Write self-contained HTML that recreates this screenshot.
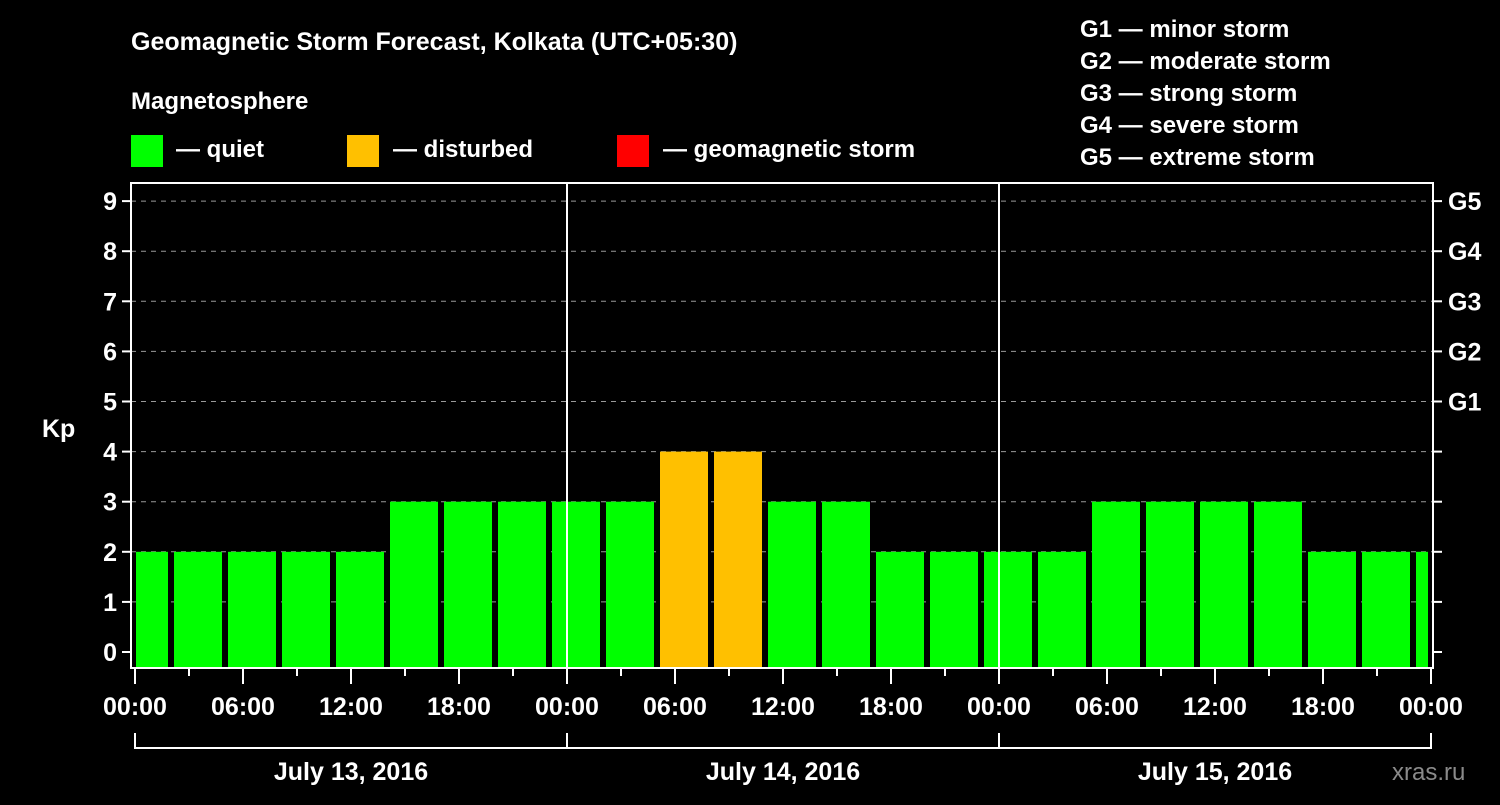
<!DOCTYPE html>
<html><head><meta charset="utf-8"><style>
body{margin:0;background:#000;width:1500px;height:800px;overflow:hidden}
svg text{font-family:"Liberation Sans",Arial,sans-serif;font-weight:bold;fill:#fff}
</style></head><body>
<svg id="c" width="1500" height="800">
<rect width="1500" height="800" fill="#000"/>
<text x="131" y="50" font-size="25">Geomagnetic Storm Forecast, Kolkata (UTC+05:30)</text>
<text x="131" y="109" font-size="24">Magnetosphere</text>
<g><rect x="131" y="135" width="32" height="32" fill="#00ff00"/><text x="176" y="157" font-size="24">— quiet</text></g>
<g><rect x="347" y="135" width="32" height="32" fill="#ffc000"/><text x="393" y="157" font-size="24">— disturbed</text></g>
<g><rect x="617" y="135" width="32" height="32" fill="#ff0000"/><text x="663" y="157" font-size="24">— geomagnetic storm</text></g>
<g font-size="24">
<text x="1080" y="37">G1 — minor storm</text><text x="1080" y="69">G2 — moderate storm</text><text x="1080" y="101">G3 — strong storm</text><text x="1080" y="133">G4 — severe storm</text><text x="1080" y="165">G5 — extreme storm</text></g>
<text x="42" y="437" font-size="25">Kp</text>
<text x="1392" y="780" font-size="24" fill="#888" style="fill:#8a8a8a;font-weight:normal">xras.ru</text>
<g id="grid"></g><g id="bars"></g><g id="axes"></g>
</svg>
<script>
const kpValues=[2,2,2,2,2,3,3,3,3,3,4,4,3,3,2,2,2,2,3,3,3,3,2,2,2];
const yTicks=[0,1,2,3,4,5,6,7,8,9];
const gLabels=["G1","G2","G3","G4","G5"];
const xTickLabels=["00:00","06:00","12:00","18:00","00:00","06:00","12:00","18:00","00:00","06:00","12:00","18:00","00:00"];
const dayLabels=["July 13, 2016","July 14, 2016","July 15, 2016"];
const NS="http://www.w3.org/2000/svg";
const L=131,R=1433,T=183,B=668,X0=135,PH=18;
const y=v=>652-v*50.1;
const xh=h=>X0+h*PH;
function mk(tag,attrs,parent){const e=document.createElementNS(NS,tag);for(const k in attrs)e.setAttribute(k,attrs[k]);parent.appendChild(e);return e;}
const grid=document.getElementById('grid'),bars=document.getElementById('bars'),axes=document.getElementById('axes');
yTicks.forEach(v=>{
 if(v>0){const g=mk('line',{x1:L,x2:R,y1:y(v),y2:y(v),stroke:'#999','stroke-dasharray':'5,5','stroke-width':1},grid);
 
 }
 const t=mk('line',{x1:L-9,x2:L,y1:y(v),y2:y(v),stroke:'#fff','stroke-width':2},axes);
 
 
 const tr=mk('line',{x1:R,x2:R+9,y1:y(v),y2:y(v),stroke:'#fff','stroke-width':2},axes);
 
 
 const lb=mk('text',{x:L-14,y:y(v)+9,'font-size':25,'text-anchor':'end'},axes);lb.textContent=v;
 
 
});
gLabels.forEach((g,i)=>{const lb=mk('text',{x:R+15,y:y(5+i)+9,'font-size':25},axes);lb.textContent=g;
 
 });
// bars: 3-hour intervals centered at 0.5h + 3k
const clip=mk('clipPath',{id:'pc'},bars);mk('rect',{x:L+5,y:T,width:R-L-10,height:B-T},clip);
const bg=mk('g',{'clip-path':'url(#pc)'},bars);
kpValues.forEach((v,i)=>{
 const c=xh(0.5+3*i);
 const col=v>=5?'#ff0000':(v>=4?'#ffc000':'#00ff00');
 const r=mk('rect',{x:c-24,y:y(v),width:48,height:B-y(v),fill:col},bg);
 
 
});
// day separators
[1,2].forEach(d=>{const l=mk('line',{x1:xh(24*d),x2:xh(24*d),y1:T,y2:B,stroke:'#fff','stroke-width':2},axes);
 
 });
const box=mk('rect',{x:L,y:T,width:R-L,height:B-T,fill:'none',stroke:'#fff','stroke-width':2},axes);


for(let h=0;h<=72;h+=3){
 const major=h%6===0;
 const t=mk('line',{x1:xh(h),x2:xh(h),y1:B,y2:B+(major?16:8),stroke:'#fff','stroke-width':2},axes);
 
 
}
xTickLabels.forEach((s,i)=>{const lb=mk('text',{x:xh(6*i),y:715,'font-size':25,'text-anchor':'middle'},axes);lb.textContent=s;
 
 });
const br=mk('path',{d:`M${xh(0)} 733V748H${xh(72)}V733`,fill:'none',stroke:'#fff','stroke-width':2},axes);


[1,2].forEach(d=>{const l=mk('line',{x1:xh(24*d),x2:xh(24*d),y1:733,y2:748,stroke:'#fff','stroke-width':2},axes);
 
 });
dayLabels.forEach((s,i)=>{const lb=mk('text',{x:xh(24*i+12),y:780,'font-size':25,'text-anchor':'middle'},axes);lb.textContent=s;
 
 });
</script>
</body></html>
